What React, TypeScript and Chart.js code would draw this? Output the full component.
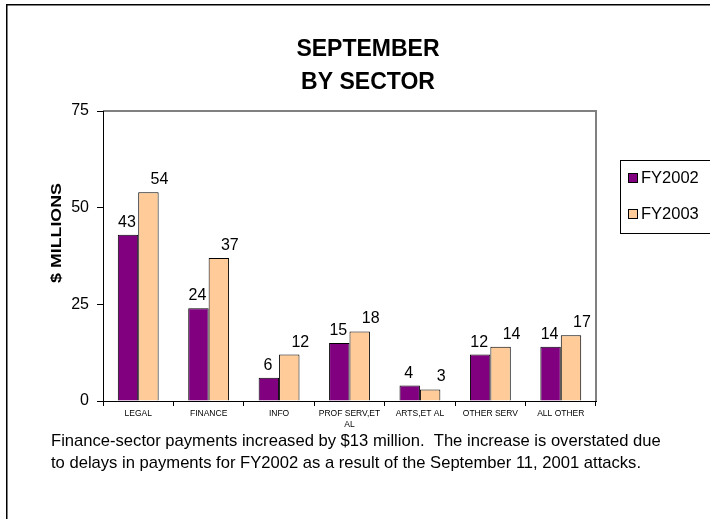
import React, { useEffect, useRef } from "react";
import { Chart, registerables } from "chart.js";

Chart.register(...registerables);

const categories = ["LEGAL", "FINANCE", "INFO", "PROF SERV,ET AL", "ARTS,ET AL", "OTHER SERV", "ALL OTHER"];
const fy2002 = [43, 24, 6, 15, 4, 12, 14];
const fy2003 = [54, 37, 12, 18, 3, 14, 17];
const seriesNames = ["FY2002", "FY2003"];
const yTicks = [0, 25, 50, 75];
const titleLines = ["SEPTEMBER", "BY SECTOR"];
const yTitle = "$ MILLIONS";
const captionLines = [
  "Finance-sector payments increased by $13 million.  The increase is overstated due",
  "to delays in payments for FY2002 as a result of the September 11, 2001 attacks.",
];

const COLORS = ["#800080", "#FFCC99"];
const FONT = "'Liberation Sans', Arial, sans-serif";

const decorPlugin = {
  id: "decor",
  beforeDraw(chart: any) {
    const ctx = chart.ctx;
    const a = chart.chartArea;
    ctx.save();
    ctx.fillStyle = "#fff";
    ctx.fillRect(0, 0, chart.width, chart.height);
    // outer frame (left + top)
    ctx.strokeStyle = "#000";
    ctx.lineWidth = 1.5;
    ctx.beginPath();
    ctx.moveTo(6.75, chart.height);
    ctx.lineTo(6.75, 4.75);
    ctx.lineTo(chart.width, 4.75);
    ctx.stroke();
    // plot area border (gray)
    ctx.strokeStyle = "#808080";
    ctx.lineWidth = 2;
    ctx.beginPath();
    ctx.moveTo(a.left, a.top);
    ctx.lineTo(a.right, a.top);
    ctx.lineTo(a.right, a.bottom);
    ctx.stroke();
    ctx.restore();
  },
  afterDraw(chart: any) {
    const ctx = chart.ctx;
    ctx.save();
    ctx.fillStyle = "#000";
    // title
    ctx.font = `bold 23px ${FONT}`;
    ctx.textAlign = "center";
    ctx.textBaseline = "middle";
    titleLines.forEach((t, i) => ctx.fillText(t, 368, 50 + i * 33));
    // y title
    ctx.save();
    ctx.translate(57, 233);
    ctx.rotate(-Math.PI / 2);
    ctx.scale(1.27, 1);
    ctx.font = `bold 14px ${FONT}`;
    ctx.fillText(yTitle, 0, 0);
    ctx.restore();
    // data labels
    ctx.font = `16px ${FONT}`;
    ctx.textBaseline = "alphabetic";
    const offsets = [-1, 11];
    chart.data.datasets.forEach((ds: any, di: number) => {
      const meta = chart.getDatasetMeta(di);
      meta.data.forEach((el: any, i: number) => {
        ctx.fillText(String(ds.data[i]), el.x + offsets[di], el.y - 8);
      });
    });
    // legend
    const lx = 620.5, ly = 160.5;
    ctx.strokeStyle = "#000";
    ctx.lineWidth = 1;
    ctx.strokeRect(lx, ly, 100, 73);
    ctx.font = `16.5px ${FONT}`;
    ctx.textAlign = "left";
    ctx.textBaseline = "middle";
    seriesNames.forEach((n, i) => {
      const y = 173 + i * 36;
      ctx.fillStyle = COLORS[i];
      ctx.fillRect(628, y, 10, 10);
      ctx.strokeRect(628.5, y + 0.5, 9, 9);
      ctx.fillStyle = "#000";
      ctx.fillText(n, 641, y + 5.5);
    });
    // caption
    ctx.font = `16.6px ${FONT}`;
    captionLines.forEach((t, i) => ctx.fillText(t, 51, 441 + i * 22));
    ctx.restore();
  },
};

function wrapLabel(label: string): string | string[] {
  if (label.length > 12) {
    const k = label.lastIndexOf(" ");
    return [label.slice(0, k), label.slice(k + 1)];
  }
  return label;
}

export default function App() {
  const ref = useRef<HTMLCanvasElement>(null);
  useEffect(() => {
    document.body.style.margin = "0";
    const chart = new Chart(ref.current!, {
      type: "bar",
      data: {
        labels: categories,
        datasets: [
          { label: seriesNames[0], data: fy2002, backgroundColor: COLORS[0], borderColor: "#000", borderWidth: 1 },
          { label: seriesNames[1], data: fy2003, backgroundColor: COLORS[1], borderColor: "#000", borderWidth: 1 },
        ],
      },
      options: {
        responsive: false,
        animation: false,
        devicePixelRatio: 1,
        categoryPercentage: 0.58,
        barPercentage: 1,
        layout: { padding: { left: 0, top: 111, right: 114, bottom: 88 } },
        plugins: { legend: { display: false }, title: { display: false }, tooltip: { enabled: false } },
        scales: {
          x: {
            grid: { drawOnChartArea: false, drawTicks: true, tickLength: 5, color: "#000", offset: true },
            border: { color: "#000", width: 1 },
            ticks: {
              color: "#000",
              font: { family: FONT, size: 8.5 },
              padding: 3,
              maxRotation: 0,
              autoSkip: false,
              callback: function (this: any, v: any) {
                return wrapLabel(categories[v]);
              },
            },
            afterFit: (s: any) => {
              s.height = 30;
            },
          },
          y: {
            min: 0,
            max: 75,
            afterBuildTicks: (s: any) => {
              s.ticks = yTicks.map((v) => ({ value: v }));
            },
            grid: { drawOnChartArea: false, drawTicks: true, tickLength: 6, color: "#000" },
            border: { color: "#000", width: 1 },
            ticks: { color: "#000", font: { family: FONT, size: 16 }, padding: 8 },
            afterFit: (s: any) => {
              s.width = 103;
            },
          },
        },
      },
      plugins: [decorPlugin],
    });
    return () => chart.destroy();
  }, []);
  return <canvas ref={ref} width={710} height={519} style={{ display: "block" }} />;
}
